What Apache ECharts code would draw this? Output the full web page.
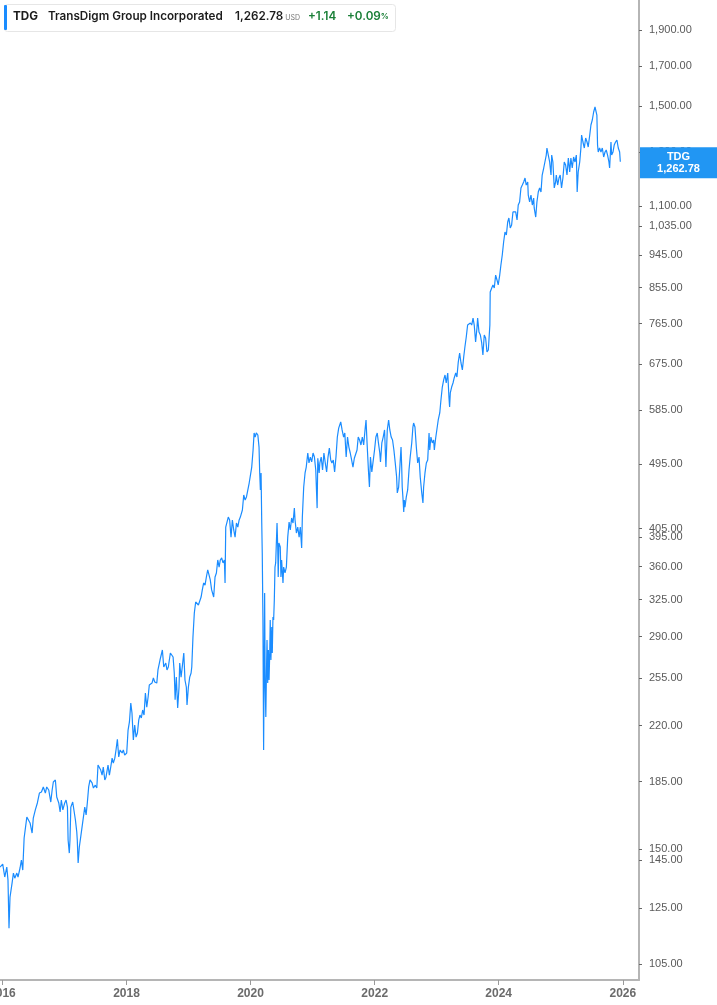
<!DOCTYPE html>
<html>
<head>
<meta charset="utf-8">
<script src="https://cdn.jsdelivr.net/npm/echarts@6/dist/echarts.min.js"></script>
<style>
html,body{margin:0;padding:0;background:#fff;}
#main{width:717px;height:1005px;}
</style>
</head>
<body>
<div id="main"></div>
<script>
const ticker = 'TDG';
const companyName = 'TransDigm Group Incorporated';
const lastPrice = 1262.78;
const currency = 'USD';
const change = '+1.14';
const changePct = '+0.09';

const yearTicks = ['2016-01-01','2018-01-01','2020-01-01','2022-01-01','2024-01-01','2026-01-01'];
const priceTicks = [105,125,145,150,185,220,255,290,325,360,395,405,495,585,675,765,855,945,1035,1100,1300,1500,1700,1900];

const dates = [
'2015-12-18','2016-01-03','2016-01-15','2016-01-27','2016-02-03','2016-02-09','2016-02-15','2016-02-27','2016-03-06','2016-03-14',
'2016-03-26','2016-04-02','2016-04-14','2016-04-22','2016-04-30','2016-05-08','2016-05-15','2016-05-24','2016-06-04','2016-06-12',
'2016-06-24','2016-07-01','2016-07-13','2016-07-25','2016-08-06','2016-08-18','2016-08-29','2016-09-10','2016-09-18','2016-09-30',
'2016-10-12','2016-10-20','2016-10-27','2016-11-08','2016-11-16','2016-11-28','2016-12-06','2016-12-13','2016-12-22','2017-01-02',
'2017-01-10','2017-01-18','2017-01-22','2017-01-29','2017-02-02','2017-02-07','2017-02-18','2017-02-26','2017-03-06','2017-03-14',
'2017-03-17','2017-03-22','2017-03-29','2017-04-06','2017-04-14','2017-04-22','2017-04-30','2017-05-08','2017-05-15','2017-05-23',
'2017-05-31','2017-06-12','2017-06-20','2017-07-01','2017-07-10','2017-07-17','2017-07-25','2017-08-02','2017-08-10','2017-08-17',
'2017-08-26','2017-09-02','2017-09-14','2017-09-22','2017-09-30','2017-10-08','2017-10-15','2017-10-24','2017-10-31','2017-11-08',
'2017-11-16','2017-11-24','2017-12-06','2017-12-13','2017-12-21','2018-01-02','2018-01-10','2018-01-18','2018-01-26','2018-02-02',
'2018-02-10','2018-02-18','2018-02-26','2018-03-06','2018-03-14','2018-03-21','2018-03-29','2018-04-06','2018-04-14','2018-04-22',
'2018-04-30','2018-05-08','2018-05-15','2018-05-23','2018-05-31','2018-06-08','2018-06-16','2018-06-28','2018-07-05','2018-07-17',
'2018-07-31','2018-08-08','2018-08-20','2018-08-27','2018-09-04','2018-09-16','2018-09-24','2018-10-02','2018-10-09','2018-10-14',
'2018-10-21','2018-10-29','2018-11-06','2018-11-10','2018-11-18','2018-11-25','2018-12-04','2018-12-11','2018-12-19','2018-12-23',
'2018-12-31','2019-01-08','2019-01-16','2019-01-20','2019-01-27','2019-02-04','2019-02-12','2019-02-20','2019-02-28','2019-03-08',
'2019-03-16','2019-03-23','2019-03-31','2019-04-08','2019-04-16','2019-04-24','2019-05-02','2019-05-09','2019-05-17','2019-05-29',
'2019-06-06','2019-06-14','2019-06-22','2019-06-30','2019-07-07','2019-07-15','2019-07-23','2019-07-31','2019-08-04','2019-08-08',
'2019-08-16','2019-08-23','2019-08-31','2019-09-08','2019-09-16','2019-09-24','2019-10-02','2019-10-10','2019-10-18','2019-10-26',
'2019-11-02','2019-11-14','2019-11-22','2019-11-30','2019-12-08','2019-12-16','2019-12-24','2019-12-31','2020-01-08','2020-01-16',
'2020-01-22','2020-01-28','2020-02-04','2020-02-13','2020-02-20','2020-02-24','2020-02-28','2020-03-03','2020-03-07','2020-03-10',
'2020-03-14','2020-03-18','2020-03-24','2020-03-27','2020-03-31','2020-04-03','2020-04-07','2020-04-11','2020-04-15','2020-04-19',
'2020-04-23','2020-04-26','2020-04-30','2020-05-05','2020-05-08','2020-05-12','2020-05-16','2020-05-20','2020-05-24','2020-05-28',
'2020-06-05','2020-06-09','2020-06-12','2020-06-16','2020-06-24','2020-06-28','2020-07-02','2020-07-10','2020-07-14','2020-07-22',
'2020-07-30','2020-08-07','2020-08-15','2020-08-22','2020-08-30','2020-09-07','2020-09-15','2020-09-19','2020-09-27','2020-10-05',
'2020-10-13','2020-10-20','2020-10-28','2020-11-01','2020-11-09','2020-11-17','2020-11-24','2020-12-03','2020-12-10','2020-12-18',
'2020-12-26','2021-01-03','2021-01-11','2021-01-19','2021-01-27','2021-01-31','2021-02-08','2021-02-12','2021-02-20','2021-02-28',
'2021-03-08','2021-03-16','2021-03-24','2021-04-01','2021-04-09','2021-04-17','2021-04-24','2021-05-02','2021-05-10','2021-05-18',
'2021-05-26','2021-06-03','2021-06-15','2021-06-23','2021-07-02','2021-07-09','2021-07-17','2021-07-25','2021-08-02','2021-08-10',
'2021-08-18','2021-08-26','2021-09-03','2021-09-11','2021-09-19','2021-09-26','2021-10-04','2021-10-12','2021-10-20','2021-10-28',
'2021-11-05','2021-11-11','2021-11-17','2021-11-25','2021-12-01','2021-12-07','2021-12-15','2021-12-23','2021-12-31','2022-01-08',
'2022-01-16','2022-01-23','2022-01-31','2022-02-04','2022-02-12','2022-02-20','2022-02-28','2022-03-08','2022-03-16','2022-03-24',
'2022-03-31','2022-04-08','2022-04-16','2022-04-24','2022-05-02','2022-05-10','2022-05-14','2022-05-22','2022-05-28','2022-06-05',
'2022-06-09','2022-06-12','2022-06-16','2022-06-21','2022-06-24','2022-06-28','2022-07-06','2022-07-14','2022-07-22','2022-07-29',
'2022-08-07','2022-08-14','2022-08-18','2022-08-26','2022-09-03','2022-09-11','2022-09-19','2022-09-26','2022-10-05','2022-10-12',
'2022-10-16','2022-10-24','2022-11-01','2022-11-09','2022-11-17','2022-11-21','2022-11-28','2022-12-06','2022-12-14','2022-12-18',
'2022-12-26','2023-01-03','2023-01-10','2023-01-19','2023-01-26','2023-02-03','2023-02-11','2023-02-19','2023-02-26','2023-03-07',
'2023-03-14','2023-03-18','2023-03-22','2023-03-30','2023-04-07','2023-04-14','2023-04-23','2023-04-30','2023-05-08','2023-05-16',
'2023-05-24','2023-06-01','2023-06-09','2023-06-16','2023-06-24','2023-07-02','2023-07-10','2023-07-18','2023-07-26','2023-08-03',
'2023-08-10','2023-08-18','2023-08-26','2023-08-30','2023-09-07','2023-09-15','2023-09-23','2023-09-30','2023-10-08','2023-10-16',
'2023-10-24','2023-11-01','2023-11-10','2023-11-12','2023-11-21','2023-11-28','2023-12-06','2023-12-14','2023-12-22','2023-12-29',
'2024-01-07','2024-01-14','2024-01-22','2024-01-30','2024-02-07','2024-02-15','2024-02-23','2024-03-01','2024-03-09','2024-03-17',
'2024-03-25','2024-04-02','2024-04-10','2024-04-18','2024-04-25','2024-05-03','2024-05-11','2024-05-19','2024-05-27','2024-06-04',
'2024-06-11','2024-06-20','2024-06-23','2024-07-01','2024-07-09','2024-07-17','2024-07-25','2024-07-28','2024-08-06','2024-08-13',
'2024-08-21','2024-08-29','2024-09-06','2024-09-13','2024-09-22','2024-09-29','2024-10-07','2024-10-11','2024-10-19','2024-10-27',
'2024-11-04','2024-11-08','2024-11-15','2024-11-20','2024-11-23','2024-12-01','2024-12-05','2024-12-13','2024-12-21','2024-12-28',
'2025-01-05','2025-01-13','2025-01-21','2025-01-29','2025-02-06','2025-02-14','2025-02-22','2025-03-01','2025-03-09','2025-03-17',
'2025-03-25','2025-04-02','2025-04-07','2025-04-13','2025-04-22','2025-04-29','2025-05-03','2025-05-11','2025-05-19','2025-05-27',
'2025-06-04','2025-06-11','2025-06-20','2025-06-27','2025-07-05','2025-07-13','2025-07-21','2025-07-28','2025-08-01','2025-08-05',
'2025-08-09','2025-08-17','2025-08-25','2025-09-02','2025-09-10','2025-09-18','2025-09-25','2025-10-03','2025-10-11','2025-10-15',
'2025-10-23','2025-10-27','2025-11-04','2025-11-11','2025-11-19','2025-11-27','2025-12-05','2025-12-13','2025-12-17'
];

const closes = [
141.9,143.2,137.6,141.9,136.3,117.4,129.3,135.0,139.3,137.1,
139.3,137.6,141.5,145.0,140.6,155.3,155.7,165.7,166.2,162.7,
157.7,165.2,169.4,173.1,178.5,179.1,181.9,178.5,181.9,180.2,
173.6,180.2,184.7,185.9,176.3,173.1,168.3,174.7,169.4,173.1,
174.7,170.9,154.3,148.2,154.3,170.9,173.6,173.1,164.2,158.2,
154.3,143.7,151.0,155.7,160.6,165.7,170.9,166.8,173.1,181.9,
185.9,184.2,181.3,182.9,181.3,194.7,195.9,191.7,188.7,193.5,
185.9,187.5,194.7,188.7,193.5,198.9,195.9,198.9,204.0,210.9,
199.6,204.0,202.1,204.0,200.8,202.1,217.0,222.5,236.0,228.8,
210.4,220.4,212.3,215.0,223.9,227.3,225.3,230.9,227.3,243.4,
233.0,240.4,249.5,248.0,251.0,255.0,251.8,251.0,261.4,269.6,
278.1,263.8,267.1,261.4,263.8,275.5,275.5,272.1,259.0,238.3,
255.7,232.3,247.9,267.1,255.7,263.8,275.5,253.4,247.9,234.5,
247.9,255.7,259.0,263.8,289.5,311.9,322.7,324.7,319.7,318.7,
327.7,335.0,342.3,340.1,348.7,356.4,354.2,345.5,335.0,327.7,
348.7,353.1,367.6,359.6,367.6,369.9,364.2,367.6,342.3,407.1,
407.1,419.9,416.1,394.6,416.1,403.4,394.6,412.2,407.1,416.1,
419.9,429.2,449.6,442.7,446.9,446.9,466.6,468.1,490.3,516.9,
544.9,538.1,544.9,541.5,521.6,481.4,456.7,481.4,412.2,375.7,
305.2,204.0,331.9,251.0,225.9,253.4,286.9,251.0,278.1,253.4,
275.5,305.2,269.6,298.6,275.5,308.0,305.2,324.7,359.6,364.2,
412.2,382.6,348.7,387.5,382.6,348.7,367.6,342.3,359.6,353.1,
359.6,394.6,413.5,403.4,418.7,412.2,431.7,416.1,399.6,407.1,
394.6,407.1,381.4,419.9,460.8,481.4,490.3,512.1,496.5,505.7,
498.1,512.1,505.7,485.9,431.7,503.8,481.4,496.5,505.7,485.9,
512.1,496.5,482.9,505.7,520.0,501.2,496.5,501.2,482.9,505.7,
538.1,553.2,563.8,550.0,538.1,544.9,505.7,538.1,521.6,512.1,
501.2,490.3,503.8,505.7,516.9,538.1,533.2,525.0,538.1,525.0,
550.0,567.3,528.3,485.9,460.8,505.7,482.9,481.4,516.9,538.1,
544.9,528.3,512.1,498.1,528.3,538.1,550.0,490.3,550.0,567.3,
550.0,538.1,533.2,516.9,496.5,475.4,452.5,460.8,485.9,521.6,
490.3,460.8,446.9,426.5,442.7,433.1,446.9,456.7,485.9,505.7,
528.3,555.0,562.0,555.0,521.6,496.5,505.7,475.4,452.5,438.6,
460.8,481.4,496.5,501.2,544.9,516.9,538.1,528.3,533.2,516.9,
536.5,538.1,567.3,579.8,603.6,628.3,642.2,652.1,636.2,656.2,
609.1,590.5,616.8,628.3,636.2,646.2,656.2,648.2,679.0,698.1,
676.9,662.4,689.6,711.3,733.7,761.4,756.7,766.2,761.4,778.0,
761.4,722.4,754.2,778.0,745.2,738.2,720.2,693.8,738.2,731.4,
700.3,704.7,761.4,843.5,854.1,862.0,854.1,889.0,875.5,862.0,
889.0,917.1,945.9,984.9,1015.9,1006.4,1047.9,1061.0,1028.6,1038.2,
1080.9,1087.6,1080.9,1054.4,1104.4,1114.9,1164.3,1175.0,1186.1,1200.9,
1175.0,1186.1,1139.2,1114.9,1139.2,1104.4,1128.4,1094.4,1064.0,1114.9,
1150.0,1164.3,1150.0,1212.0,1238.7,1262.0,1289.5,1317.9,1289.5,1262.0,
1212.0,1289.5,1262.0,1200.9,1164.3,1186.1,1212.0,1175.0,1200.9,1212.0,
1164.3,1200.9,1262.0,1250.3,1212.0,1277.8,1223.5,1277.8,1238.7,1281.7,
1262.0,1289.5,1150.0,1223.5,1262.0,1317.9,1372.0,1342.7,1317.9,1359.5,
1342.7,1322.0,1372.0,1415.2,1437.5,1473.5,1496.5,1505.8,1459.7,1330.1,
1301.7,1317.9,1301.7,1317.9,1281.7,1301.7,1309.8,1289.5,1262.0,1238.7,
1342.7,1289.5,1301.7,1330.1,1342.7,1351.1,1317.9,1301.7,1262.78
];

const toTime = s => Date.UTC(+s.slice(0, 4), +s.slice(5, 7) - 1, +s.slice(8, 10));
const fmt2 = v => Number(v).toLocaleString('en-US', {minimumFractionDigits: 2, maximumFractionDigits: 2});
const seriesData = dates.map((d, i) => [toTime(d), closes[i]]);
const yearTickTimes = yearTicks.map(toTime);

const chart = echarts.init(document.getElementById('main'), null, {renderer: 'canvas'});
const axisFont = '"Liberation Sans", Arial, sans-serif';
const headFont = 'Inter, "Noto Sans", sans-serif';

chart.setOption({
  animation: false,
  backgroundColor: '#ffffff',
  grid: {left: 0, right: 78, top: 0, bottom: 25, containLabel: false, outerBoundsMode: 'none'},
  xAxis: {
    type: 'value',
    min: toTime('2015-12-18'),
    max: toTime('2026-04-06'),
    scale: true,
    axisLine: {show: true, onZero: false, lineStyle: {color: '#b5b5b5', width: 2}},
    axisTick: {show: true, customValues: yearTickTimes, length: 5, lineStyle: {color: '#9a9a9a', width: 1}},
    axisLabel: {
      customValues: yearTickTimes,
      formatter: v => String(new Date(v).getUTCFullYear()),
      color: '#6b6b6b', fontSize: 12, fontWeight: 'bold', fontFamily: axisFont, margin: 8,
      hideOverlap: false
    },
    splitLine: {show: false}
  },
  yAxis: {
    type: 'log',
    logBase: 10,
    position: 'right',
    min: 100,
    max: 2085,
    axisLine: {show: true, lineStyle: {color: '#b5b5b5', width: 2}},
    axisTick: {show: true, customValues: priceTicks, length: 3, lineStyle: {color: '#666', width: 1}},
    axisLabel: {
      customValues: priceTicks,
      formatter: v => fmt2(v),
      color: '#5a5a5a', fontSize: 11, fontFamily: axisFont, margin: 10
    },
    splitLine: {show: false}
  },
  series: [{
    type: 'line',
    data: seriesData,
    showSymbol: false,
    symbol: 'none',
    lineStyle: {color: '#1a8cff', width: 1.2},
    emphasis: {disabled: true}
  }]
});

const lastPt = chart.convertToPixel({gridIndex: 0}, seriesData[seriesData.length - 1]);
const gridRight = 717 - 78;
const boxH = 31;
const boxW = 717 - gridRight - 1;

chart.setOption({
  graphic: [
    {type: 'rect', left: 4, top: 4, shape: {width: 391, height: 27, r: 3}, style: {fill: '#ffffff', stroke: '#e6e6e6', lineWidth: 1}, z: 100},
    {type: 'rect', left: 4, top: 5, shape: {width: 3, height: 25, r: 1}, style: {fill: '#1a8cff'}, z: 101},
    {type: 'text', left: 13, top: 10, style: {text: ticker, font: 'bold 11.7px ' + headFont, fill: '#1c1c1c'}, z: 101},
    {type: 'text', left: 48, top: 10, style: {text: companyName, font: '600 11.7px ' + headFont, fill: '#1c1c1c'}, z: 101},
    {type: 'text', left: 235, top: 10, style: {
      text: '{p|' + fmt2(lastPrice) + '}{u| ' + currency + '}',
      rich: {
        p: {fontFamily: headFont, fontWeight: 600, fontSize: 11.7, fill: '#1c1c1c', verticalAlign: 'bottom'},
        u: {fontFamily: headFont, fontSize: 7, fill: '#777', verticalAlign: 'bottom', padding: [0, 0, 1, 0]}
      }
    }, z: 101},
    {type: 'text', left: 308, top: 10, style: {text: change, font: '600 11.7px ' + headFont, fill: '#1a7f37'}, z: 101},
    {type: 'text', left: 347, top: 10, style: {
      text: '{g|' + changePct + '}{s|%}',
      rich: {
        g: {fontFamily: headFont, fontWeight: 600, fontSize: 11.7, fill: '#1a7f37', verticalAlign: 'bottom'},
        s: {fontFamily: headFont, fontWeight: 600, fontSize: 8, fill: '#1a7f37', verticalAlign: 'bottom', padding: [0, 0, 1, 0]}
      }
    }, z: 101},
    {type: 'rect', left: gridRight + 1, top: lastPt[1] - boxH / 2 + 1, shape: {width: boxW, height: boxH}, style: {fill: '#2196f3'}, z: 100},
    {type: 'text', x: gridRight + 1 + boxW / 2, y: lastPt[1] - 5, style: {text: ticker, font: 'bold 11px ' + axisFont, fill: '#ffffff', align: 'center', verticalAlign: 'middle'}, z: 101},
    {type: 'text', x: gridRight + 1 + boxW / 2, y: lastPt[1] + 7, style: {text: fmt2(lastPrice), font: 'bold 11px ' + axisFont, fill: '#ffffff', align: 'center', verticalAlign: 'middle'}, z: 101}
  ]
});
</script>
</body>
</html>
